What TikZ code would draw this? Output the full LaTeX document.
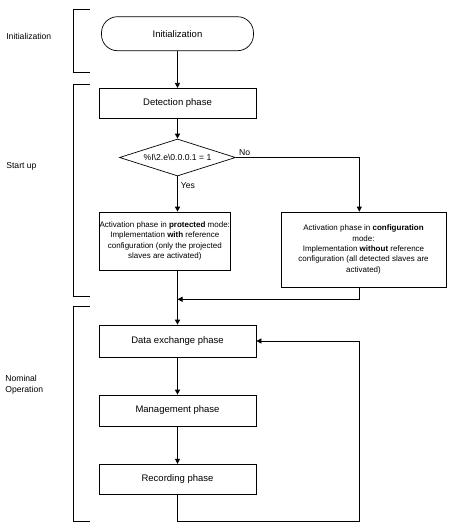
\documentclass[tikz,border=0pt]{standalone}
\usepackage{fontspec}
\setmainfont{Liberation Sans}
\usetikzlibrary{arrows.meta,shapes.geometric}
\begin{document}
\begin{tikzpicture}[x=1pt,y=-1pt,
  line width=0.7pt,
  every node/.style={inner sep=0pt},
  arr/.style={-{Triangle[width=5pt,length=5pt]}},
  box/.style={draw,rectangle,font=\fontsize{9.5}{11}\selectfont},
  bigbox/.style={draw,rectangle,align=center,font=\fontsize{8}{10.3}\selectfont},
  sidelabel/.style={anchor=west,align=left,font=\fontsize{8.6}{11.5}\selectfont},
  small/.style={font=\fontsize{8.6}{10}\selectfont}]
\useasboundingbox (0,0) rectangle (449,528);
% brackets
\draw (90,9.5) -- (73.5,9.5) -- (73.5,72.5) -- (90,72.5);
\draw (90,84.5) -- (73.5,84.5) -- (73.5,296.5) -- (90,296.5);
\draw (90,306.5) -- (73.5,306.5) -- (73.5,521) -- (90,521);
% side labels
\node[sidelabel] (lInit) at (6,36.5) {Initialization};
\node[sidelabel] (lStart) at (6,166.5) {Start up};
\node[sidelabel] (lNom) at (5,385) {Nominal\\Operation};
% nodes
\node[box,rounded corners=16pt,minimum width=152pt,minimum height=34pt] (init) at (177.5,33.7) {Initialization};
\node[box,minimum width=157pt,minimum height=30pt] (det) at (177.5,103.3) {Detection phase};
\node[draw,diamond,aspect=3.1,minimum width=116pt,minimum height=37pt,small] (dec) at (177.5,157.5) {\%I\textbackslash 2.e\textbackslash 0.0.0.1 = 1};
\node[bigbox,minimum width=131pt,minimum height=58pt] (prot) at (164.8,241) {Activation phase in \textbf{protected} mode:\\Implementation \textbf{with} reference\\configuration (only the projected\\slaves are activated)};
\node[bigbox,minimum width=165pt,minimum height=75pt] (conf) at (363.5,249.5) {Activation phase in \textbf{configuration}\\mode:\\Implementation \textbf{without} reference\\configuration (all detected slaves are\\activated)};
\node[box,minimum width=157pt,minimum height=32pt] (data) at (177.5,341) {Data exchange phase};
\node[box,minimum width=157pt,minimum height=31pt] (mgmt) at (177.5,410.5) {Management phase};
\node[box,minimum width=157pt,minimum height=30pt] (rec) at (177.5,479.2) {Recording phase};
\coordinate (merge) at (177.5,299.3);
\coordinate (loopL) at (177.5,521);
\coordinate (loopR) at (359.3,521);
% connectors
\draw[arr] (init.south) -- (det.north);
\draw[arr] (det.south) -- (dec.north);
\draw[arr] (dec.south) -- (dec.south |- prot.north) node[pos=0.25,anchor=west,xshift=3pt,small] (yes) {Yes};
\draw[arr] (dec.east) -- (359.3,157.5) -- (359.3,0 |- conf.north);
\node[small,anchor=south west] (no) at ([xshift=3pt,yshift=2pt]dec.east) {No};
\draw[arr] (359.3,0 |- conf.south) |- (merge);
\draw[arr] (prot.south -| merge) -- (data.north);
\draw[arr] (data.south) -- (mgmt.north);
\draw[arr] (mgmt.south) -- (rec.north);
\draw[arr] (rec.south) -- (loopL) -- (loopR) |- (data.east);
\end{tikzpicture}
\end{document}
